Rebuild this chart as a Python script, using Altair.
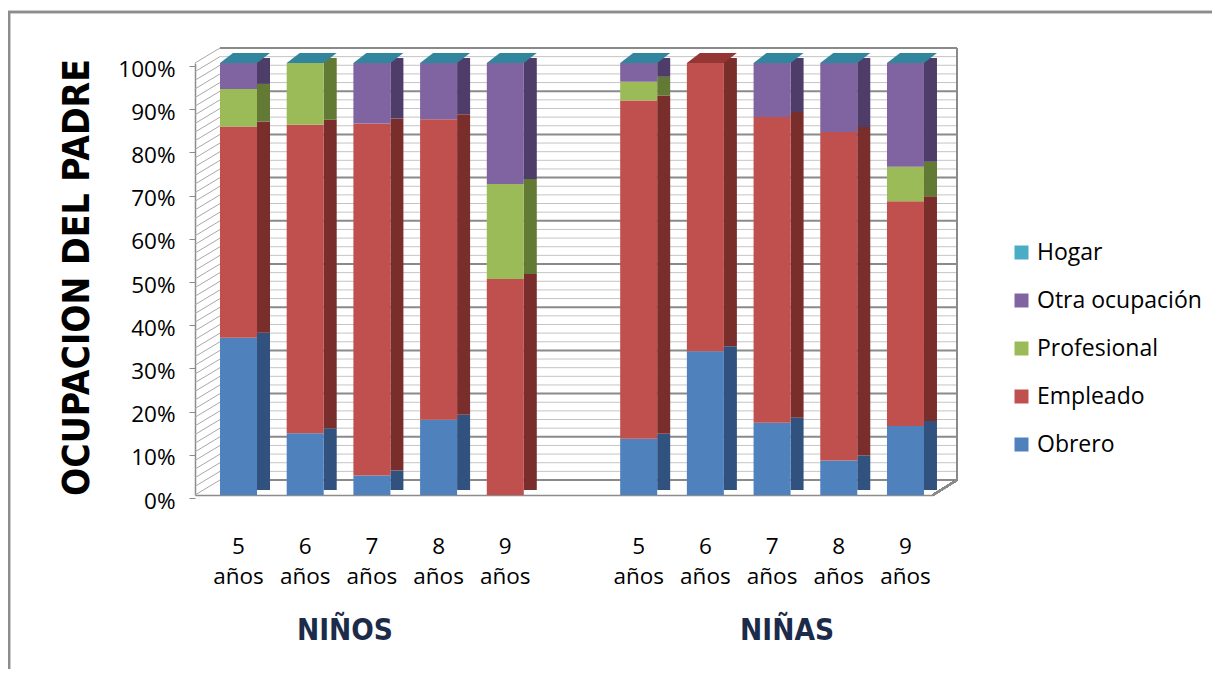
import altair as alt
import pandas as pd

# ---------------- data ----------------
cats = ["N5", "N6", "N7", "N8", "N9", "gap", "A5", "A6", "A7", "A8", "A9"]
bar_cats = ["N5", "N6", "N7", "N8", "N9", "A5", "A6", "A7", "A8", "A9"]
series = ["Obrero", "Empleado", "Profesional", "Otra ocupación", "Hogar"]
legend_order = ["Hogar", "Otra ocupación", "Profesional", "Empleado", "Obrero"]

obrero = [36.4, 14.3, 4.5, 17.4, 0.0, 13.0, 33.3, 16.7, 8.0, 16.0]
empleado = [48.9, 71.4, 81.5, 69.6, 50.0, 78.3, 66.7, 70.8, 76.0, 52.0]
profesional = [8.7, 14.3, 0.0, 0.0, 22.0, 4.35, 0.0, 0.0, 0.0, 8.0]
otra = [6.0, 0.0, 14.0, 13.0, 28.0, 4.35, 0.0, 12.5, 16.0, 24.0]
hogar = [0.0, 0.0, 0.0, 0.0, 0.0, 0.0, 0.0, 0.0, 0.0, 0.0]
top_face = ["Hogar", "Hogar", "Hogar", "Hogar", "Hogar",
            "Hogar", "Empleado", "Hogar", "Hogar", "Hogar"]

y_ticks = [0, 10, 20, 30, 40, 50, 60, 70, 80, 90, 100]
minor_grid = [v for v in range(0, 101, 2)]
group_labels = ["NIÑOS", "NIÑAS"]
y_title = "OCUPACION DEL PADRE"

# ---------------- styles ----------------
front_colors = {"Hogar": "#4BACC6", "Otra ocupación": "#8064A2",
                "Profesional": "#9BBB59", "Empleado": "#C0504D", "Obrero": "#4F81BD"}
side_colors = {"Hogar": "#31859C", "Otra ocupación": "#4F3D69",
               "Profesional": "#627A34", "Empleado": "#7A2E2C", "Obrero": "#31527F"}
top_colors = {"Hogar": "#31859C", "Empleado": "#943634"}

W, H = 738, 432
DEPTH_X, DEPTH_Y = 24, 15
LABEL_FONT = "Open Sans"
HEAVY_FONT = "DejaVu Sans Condensed"

values = {"Obrero": obrero, "Empleado": empleado, "Profesional": profesional,
          "Otra ocupación": otra, "Hogar": hogar}
rows = []
for i, s in enumerate(series):
    for c, v in zip(bar_cats, values[s]):
        rows.append({"cat": c, "serie": s, "value": v, "ord": i})
df = pd.DataFrame(rows)

totals = [sum(values[s][k] for s in series) for k in range(len(bar_cats))]
df_top = pd.DataFrame({"cat": bar_cats, "total": totals, "top": top_face})

df_grid = pd.DataFrame({"v": minor_grid})
df_grid["major"] = df_grid["v"] % 10 == 0

xscale = alt.Scale(domain=cats, paddingInner=0.445, paddingOuter=0.255, align=0.735)
yscale = alt.Scale(domain=[0, 100], nice=False, zero=True)

x_enc = alt.X(
    "cat:N", scale=xscale, sort=cats, title=None,
    axis=alt.Axis(
        labelExpr="datum.value == 'gap' ? '' : [slice(datum.value, 1), 'años']",
        labelFont=LABEL_FONT, labelFontSize=22.5, labelColor="#000000",
        labelLineHeight=30, labelAngle=0, labelAlign="center", labelPadding=40,
        ticks=False, domainColor="#8c8c8c", domainWidth=1.5, grid=False,
        labelBaseline="top",
    ),
)
y_axis = alt.Axis(
    values=y_ticks, labelExpr="datum.value + '%'", title=y_title,
    labelFont=LABEL_FONT, labelFontSize=22.5, labelColor="#000000",
    labelPadding=14, tickSize=6, tickColor="#8c8c8c", domainColor="#8c8c8c",
    domainWidth=1.5, labelOffset=3, tickOffset=3, grid=False,
    titleFont=HEAVY_FONT, titleFontSize=37, titleFontWeight="bold",
    titleColor="#000000", titleAngle=-90, titleX=-118, titleY=214,
    titleAlign="center", titleBaseline="middle",
)

# ---------------- 3D walls ----------------
base_grid = alt.Chart(df_grid)
back_minor = base_grid.transform_filter("!datum.major").mark_rule(
    color="#c4c4c4", strokeWidth=1, yOffset=-DEPTH_Y
).encode(x=alt.value(DEPTH_X + 1), x2=alt.value(W + DEPTH_X),
         y=alt.Y("v:Q", scale=yscale, axis=y_axis))
back_major = base_grid.transform_filter("datum.major").mark_rule(
    color="#8a8a8a", strokeWidth=2, yOffset=-DEPTH_Y
).encode(x=alt.value(DEPTH_X + 1), x2=alt.value(W + DEPTH_X),
         y=alt.Y("v:Q", scale=yscale))
left_wall = base_grid.mark_rule(
    color="#a8a8a8", strokeWidth=1, y2Offset=-DEPTH_Y
).encode(x=alt.value(0), x2=alt.value(DEPTH_X + 1),
         y=alt.Y("v:Q", scale=yscale), y2="v:Q")
back_edge = alt.Chart(df_grid).mark_rule(
    color="#8a8a8a", strokeWidth=1.5, yOffset=-DEPTH_Y, y2Offset=-DEPTH_Y
).encode(x=alt.value(W + DEPTH_X), y=alt.datum(100, scale=yscale), y2=alt.datum(0))
floor_edge = alt.Chart(df_grid).mark_rule(
    color="#8a8a8a", strokeWidth=1.5, y2Offset=-DEPTH_Y
).encode(x=alt.value(W), x2=alt.value(W + DEPTH_X),
         y=alt.datum(0, scale=yscale), y2=alt.datum(0))

# ---------------- bars ----------------
order_enc = alt.Order("ord:Q", sort="ascending")
front = alt.Chart(df).mark_bar(strokeWidth=0).encode(
    x=x_enc,
    y=alt.Y("value:Q", stack="zero", scale=yscale),
    color=alt.Color(
        "serie:N",
        scale=alt.Scale(domain=legend_order, range=[front_colors[s] for s in legend_order]),
        legend=alt.Legend(
            orient="none", legendX=815, legendY=178, title=None,
            symbolType="square", symbolSize=196, symbolStrokeWidth=0,
            labelFont=LABEL_FONT, labelFontSize=23, labelColor="#000000",
            rowPadding=24, labelOffset=4, padding=0, labelLimit=400,
        ),
    ),
    order=order_enc,
)
side = alt.Chart(df).mark_bar(
    strokeWidth=0, width=13, xOffset=25, yOffset=-5, y2Offset=-5
).encode(
    x=alt.X("cat:N", scale=xscale, sort=cats),
    y=alt.Y("value:Q", stack="zero", scale=yscale),
    color=alt.Color(
        "serie:N",
        scale=alt.Scale(domain=legend_order, range=[side_colors[s] for s in legend_order]),
        legend=None,
    ),
    order=order_enc,
)
top_path = "M -1 0.2 L 0.48 0.2 L 1 -0.2 L -0.48 -0.2 Z"
tops = []
for name, col in top_colors.items():
    tops.append(
        alt.Chart(df_top).transform_filter(alt.datum.top == name).mark_point(
            shape=top_path, size=2500, filled=True, opacity=1, color=col,
            strokeWidth=0, xOffset=6.5, yOffset=-5,
        ).encode(x=alt.X("cat:N", scale=xscale, sort=cats),
                 y=alt.Y("total:Q", scale=yscale))
    )

# ---------------- group labels ----------------
df_groups = pd.DataFrame({"label": group_labels, "cat": ["N7", "A7"]})
grp_n = alt.Chart(df_groups).transform_filter(alt.datum.cat == "N7").mark_text(
    font=HEAVY_FONT, fontSize=29.5, fontWeight="bold", color="#1c2b4a", dx=-27,
    baseline="middle", align="center",
).encode(x=alt.X("cat:N", scale=xscale, sort=cats), y=alt.value(568), text="label:N")
grp_a = alt.Chart(df_groups).transform_filter(alt.datum.cat == "A7").mark_text(
    font=HEAVY_FONT, fontSize=29.5, fontWeight="bold", color="#1c2b4a", dx=15,
    baseline="middle", align="center",
).encode(x=alt.X("cat:N", scale=xscale, sort=cats), y=alt.value(568), text="label:N")

# ---------------- outer frame ----------------
frame = alt.Chart(df_groups).mark_rect(
    fill=None, stroke="#8c8c8c", strokeWidth=2.5
).encode(x=alt.value(-186), x2=alt.value(1100), y=alt.value(-51), y2=alt.value(700))

chart = alt.layer(
    frame, back_minor, back_major, left_wall, back_edge, floor_edge,
    side, front, *tops, grp_n, grp_a,
).resolve_scale(color="independent").properties(
    width=W, height=H,
    autosize=alt.AutoSizeParams(type="none"),
    padding={"left": 187, "top": 55, "right": 279, "bottom": 174},
).configure_view(stroke=None)

chart.save("out.html", embed_options={"renderer": "svg", "actions": False})
